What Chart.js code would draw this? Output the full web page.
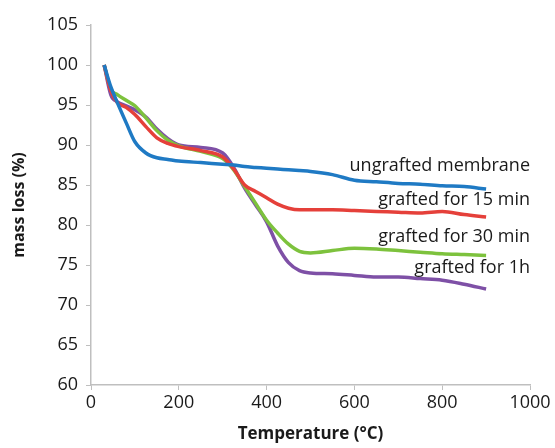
<!DOCTYPE html>
<html>
<head>
<meta charset="utf-8">
<script src="https://cdn.jsdelivr.net/npm/chart.js@4"></script>
<style>
  html, body { margin: 0; padding: 0; background: #fff; }
  #wrap { width: 555px; height: 448px; }
</style>
</head>
<body>
<div id="wrap"><canvas id="tgaChart" width="555" height="448"></canvas></div>
<script>
// TGA data
const temperature = [30, 45, 60, 80, 100, 125, 150, 175, 200, 250, 300, 325, 350, 375, 400, 425, 450, 475, 500, 550, 600, 650, 700, 750, 800, 850, 900];
const ungrafted   = [100, 97.3, 95.3, 92.8, 90.4, 89.0, 88.4, 88.2, 88.0, 87.8, 87.6, 87.5, 87.3, 87.2, 87.1, 87.0, 86.9, 86.8, 86.7, 86.3, 85.6, 85.4, 85.2, 85.1, 84.9, 84.8, 84.5];
const grafted15   = [100, 96.8, 95.3, 94.7, 93.8, 92.3, 90.9, 90.2, 89.8, 89.3, 88.5, 87.0, 85.0, 84.2, 83.4, 82.6, 82.1, 81.9, 81.9, 81.9, 81.8, 81.7, 81.6, 81.5, 81.7, 81.3, 81.0];
const grafted30   = [100, 97.0, 96.3, 95.6, 94.9, 93.4, 91.8, 90.6, 89.9, 89.2, 88.3, 86.9, 84.8, 82.7, 80.6, 79.0, 77.6, 76.7, 76.5, 76.8, 77.1, 77.0, 76.8, 76.6, 76.4, 76.3, 76.2];
const grafted1h   = [100, 96.3, 95.4, 94.9, 94.4, 93.5, 92.0, 90.8, 90.0, 89.7, 89.0, 87.2, 84.6, 82.5, 80.4, 77.4, 75.3, 74.3, 74.0, 73.9, 73.7, 73.5, 73.5, 73.3, 73.1, 72.6, 72.0];

const seriesNames = ['ungrafted membrane', 'grafted for 15 min', 'grafted for 30 min', 'grafted for 1h'];
const seriesColors = ['#1f7ac4', '#e5403a', '#7dc23d', '#7e50a6'];
const seriesValues = [ungrafted, grafted15, grafted30, grafted1h];

// where each series name sits (temperature of right edge, mass loss of middle)
const labelAnchor = [[1000, 87.4], [1000, 83.1], [1000, 78.5], [1000, 74.7]];

const textColor = '#1a1a1a';
const axisColor = '#bfbfbf';
const fontFamily = "'Open Sans', sans-serif";

const seriesLabels = {
    id: 'seriesLabels',
    afterDatasetsDraw(chart) {
        const ctx = chart.ctx;
        const xs = chart.scales.x, ys = chart.scales.y;
        ctx.save();
        ctx.font = '18px ' + fontFamily;
        ctx.fillStyle = textColor;
        ctx.textAlign = 'right';
        ctx.textBaseline = 'middle';
        seriesNames.forEach((name, i) => {
            ctx.fillText(name, xs.getPixelForValue(labelAnchor[i][0]), ys.getPixelForValue(labelAnchor[i][1]));
        });
        ctx.restore();
    }
};

const tgactx = document.getElementById('tgaChart').getContext('2d');
const tgaChart = new Chart(tgactx, {
    type: 'line',
    data: {
        datasets: seriesNames.map((name, i) => ({
            label: name,
            data: temperature.map((t, j) => ({ x: t, y: seriesValues[i][j] })),
            borderColor: seriesColors[i],
            backgroundColor: seriesColors[i],
            borderWidth: 3.5,
            pointRadius: 0,
            cubicInterpolationMode: 'monotone',
            fill: false
        }))
    },
    options: {
        responsive: false,
        animation: false,
        layout: {
            padding: { top: 25, right: 25, left: 10, bottom: 4 }
        },
        plugins: {
            legend: { display: false },
            tooltip: { enabled: false }
        },
        scales: {
            x: {
                type: 'linear',
                min: 0,
                max: 1000,
                ticks: {
                    stepSize: 200,
                    color: textColor,
                    font: { family: fontFamily, size: 18 },
                    padding: 2,
                    callback: v => String(v)
                },
                grid: {
                    drawOnChartArea: false,
                    color: axisColor,
                    tickLength: 5
                },
                border: { color: axisColor, width: 1.5 },
                title: {
                    display: true,
                    text: 'Temperature (°C)',
                    color: textColor,
                    font: { family: fontFamily, size: 17, weight: 'bold' },
                    padding: { top: 4, bottom: 0 }
                },
                afterFit: scale => { scale.height = 59; }
            },
            y: {
                min: 60,
                max: 105,
                ticks: {
                    stepSize: 5,
                    color: textColor,
                    font: { family: fontFamily, size: 18 },
                    padding: 8
                },
                grid: {
                    drawOnChartArea: false,
                    color: axisColor,
                    tickLength: 5
                },
                border: { color: axisColor, width: 1.5 },
                title: {
                    display: true,
                    text: 'mass loss (%)',
                    color: textColor,
                    font: { family: fontFamily, size: 16, weight: 'bold' },
                    padding: { top: 0, bottom: 4 }
                },
                afterFit: scale => { scale.width = 81; }
            }
        }
    },
    plugins: [seriesLabels]
});
</script>
</body>
</html>
